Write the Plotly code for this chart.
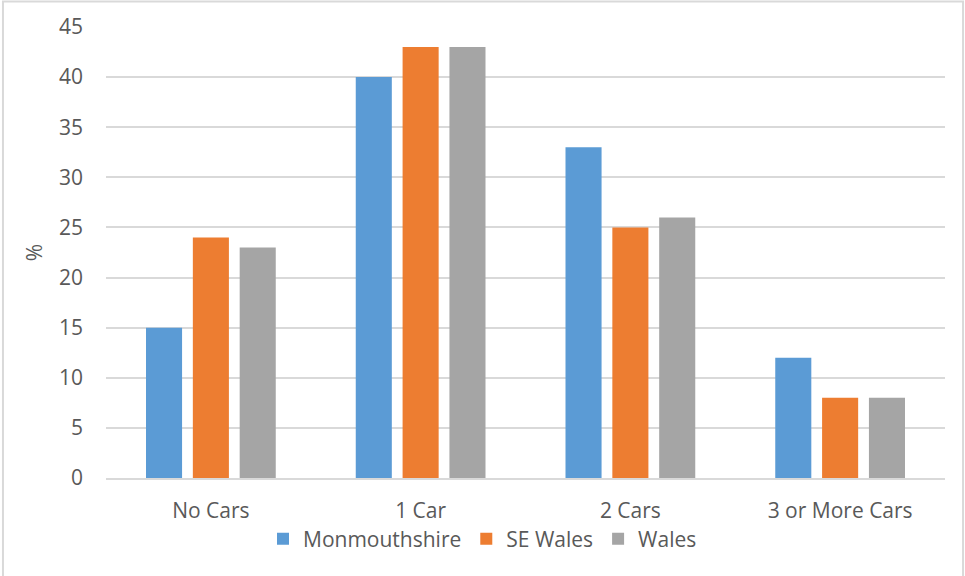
import plotly.graph_objects as go

categories = ['No Cars', '1 Car', '2 Cars', '3 or More Cars']
monmouthshire = [15, 40, 33, 12]
se_wales = [24, 43, 25, 8]
wales = [23, 43, 26, 8]

colors = {'Monmouthshire': '#5B9BD5', 'SE Wales': '#ED7D31', 'Wales': '#A5A5A5'}
text_color = '#595959'
grid_color = '#D9D9D9'


def make_bars():
    series = [('Monmouthshire', monmouthshire),
              ('SE Wales', se_wales),
              ('Wales', wales)]
    return [go.Bar(x=categories, y=vals, name=name,
                   marker=dict(color=colors[name], line=dict(width=0)))
            for name, vals in series]


fig = go.Figure(make_bars())

fig.update_layout(
    width=965, height=576,
    margin=dict(l=106, r=20, t=27, b=98, autoexpand=False),
    paper_bgcolor='white', plot_bgcolor='white',
    font=dict(family='Open Sans', size=21, color=text_color),
    barmode='group', bargap=0.33, bargroupgap=0.23,
    showlegend=True,
    legend=dict(orientation='h', xref='container', x=0.5, xanchor='center',
                yref='container', y=0.064, yanchor='middle',
                bgcolor='rgba(0,0,0,0)',
                font=dict(size=21, color=text_color), itemwidth=30,
                traceorder='normal'),
)

fig.update_xaxes(showline=True, linecolor=grid_color, linewidth=1.5,
                 showgrid=False, ticks='', ticklabelstandoff=13,
                 automargin=False,
                 tickfont=dict(size=21, color=text_color))
fig.update_yaxes(range=[0, 45], dtick=5, showgrid=True, gridcolor=grid_color,
                 gridwidth=1.5, zeroline=False, showline=False, ticks='',
                 ticklabelstandoff=22, automargin=False,
                 tickfont=dict(size=21, color=text_color),
                 title=dict(text='%', standoff=10,
                            font=dict(size=21, color=text_color)))

# outer chart border like the spreadsheet frame
fig.add_shape(type='rect', xref='paper', yref='paper',
              x0=-0.1228, x1=1.0215, y0=-0.3, y1=1.0565,
              line=dict(color='#D9D9D9', width=2), layer='below')

# drop the page's default body margin so the chart sits at the window corner
fig.write_html('out.html', config={'displayModeBar': False},
               post_script="document.body.style.margin='0';")
